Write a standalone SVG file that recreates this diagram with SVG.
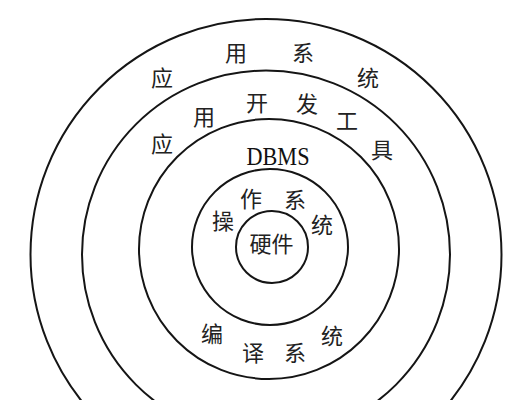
<svg xmlns="http://www.w3.org/2000/svg" width="532" height="400" viewBox="0 0 532 400">
  <defs>
    <linearGradient id="fadeOuter" gradientUnits="userSpaceOnUse" x1="30" y1="0" x2="502" y2="0">
      <stop offset="0" stop-color="#111"/>
      <stop offset="0.7" stop-color="#222"/>
      <stop offset="1" stop-color="#9a9a9a"/>
    </linearGradient>
    <linearGradient id="fadeRing4" gradientUnits="userSpaceOnUse" x1="82" y1="0" x2="450" y2="0">
      <stop offset="0" stop-color="#111"/>
      <stop offset="0.75" stop-color="#222"/>
      <stop offset="1" stop-color="#555"/>
    </linearGradient>
  </defs>
  <style>
    .ring { fill: none; stroke: #151515; stroke-width: 2; }
    .cjk { font-family: "Noto Sans CJK SC", "Noto Sans", sans-serif; font-size: 22px; fill: #222; text-anchor: middle; dominant-baseline: central; }
    .latin { font-family: "Liberation Serif", "Times New Roman", serif; font-size: 25px; fill: #111; text-anchor: middle; }
  </style>
  <rect width="532" height="400" fill="#fff"/>

  <g id="application-system">
    <circle class="ring" cx="266" cy="254.5" r="235.5" stroke="url(#fadeOuter)"/>
    <text class="cjk" x="162" y="76">应</text>
    <text class="cjk" x="236" y="51">用</text>
    <text class="cjk" x="303" y="51">系</text>
    <text class="cjk" x="368" y="76">统</text>
  </g>

  <g id="application-dev-tools">
    <circle class="ring" cx="266" cy="254.5" r="184" stroke="url(#fadeRing4)"/>
    <text class="cjk" x="162" y="142">应</text>
    <text class="cjk" x="204" y="115">用</text>
    <text class="cjk" x="257" y="101">开</text>
    <text class="cjk" x="307" y="102">发</text>
    <text class="cjk" x="347" y="119">工</text>
    <text class="cjk" x="382" y="148">具</text>
  </g>

  <g id="dbms">
    <circle class="ring" cx="269" cy="249" r="130"/>
    <text class="latin" x="278" y="165" textLength="63" lengthAdjust="spacingAndGlyphs">DBMS</text>
    <text class="cjk" x="212" y="332">编</text>
    <text class="cjk" x="253" y="351">译</text>
    <text class="cjk" x="295" y="351">系</text>
    <text class="cjk" x="332" y="334">统</text>
  </g>

  <g id="operating-system">
    <circle class="ring" cx="270" cy="247" r="78"/>
    <text class="cjk" x="223" y="219">操</text>
    <text class="cjk" x="251" y="197">作</text>
    <text class="cjk" x="295" y="198">系</text>
    <text class="cjk" x="322" y="223">统</text>
  </g>

  <g id="hardware">
    <circle class="ring" cx="272" cy="247" r="36"/>
    <text class="cjk" x="271.5" y="242">硬件</text>
  </g>

  <g id="connectors"/>
</svg>
